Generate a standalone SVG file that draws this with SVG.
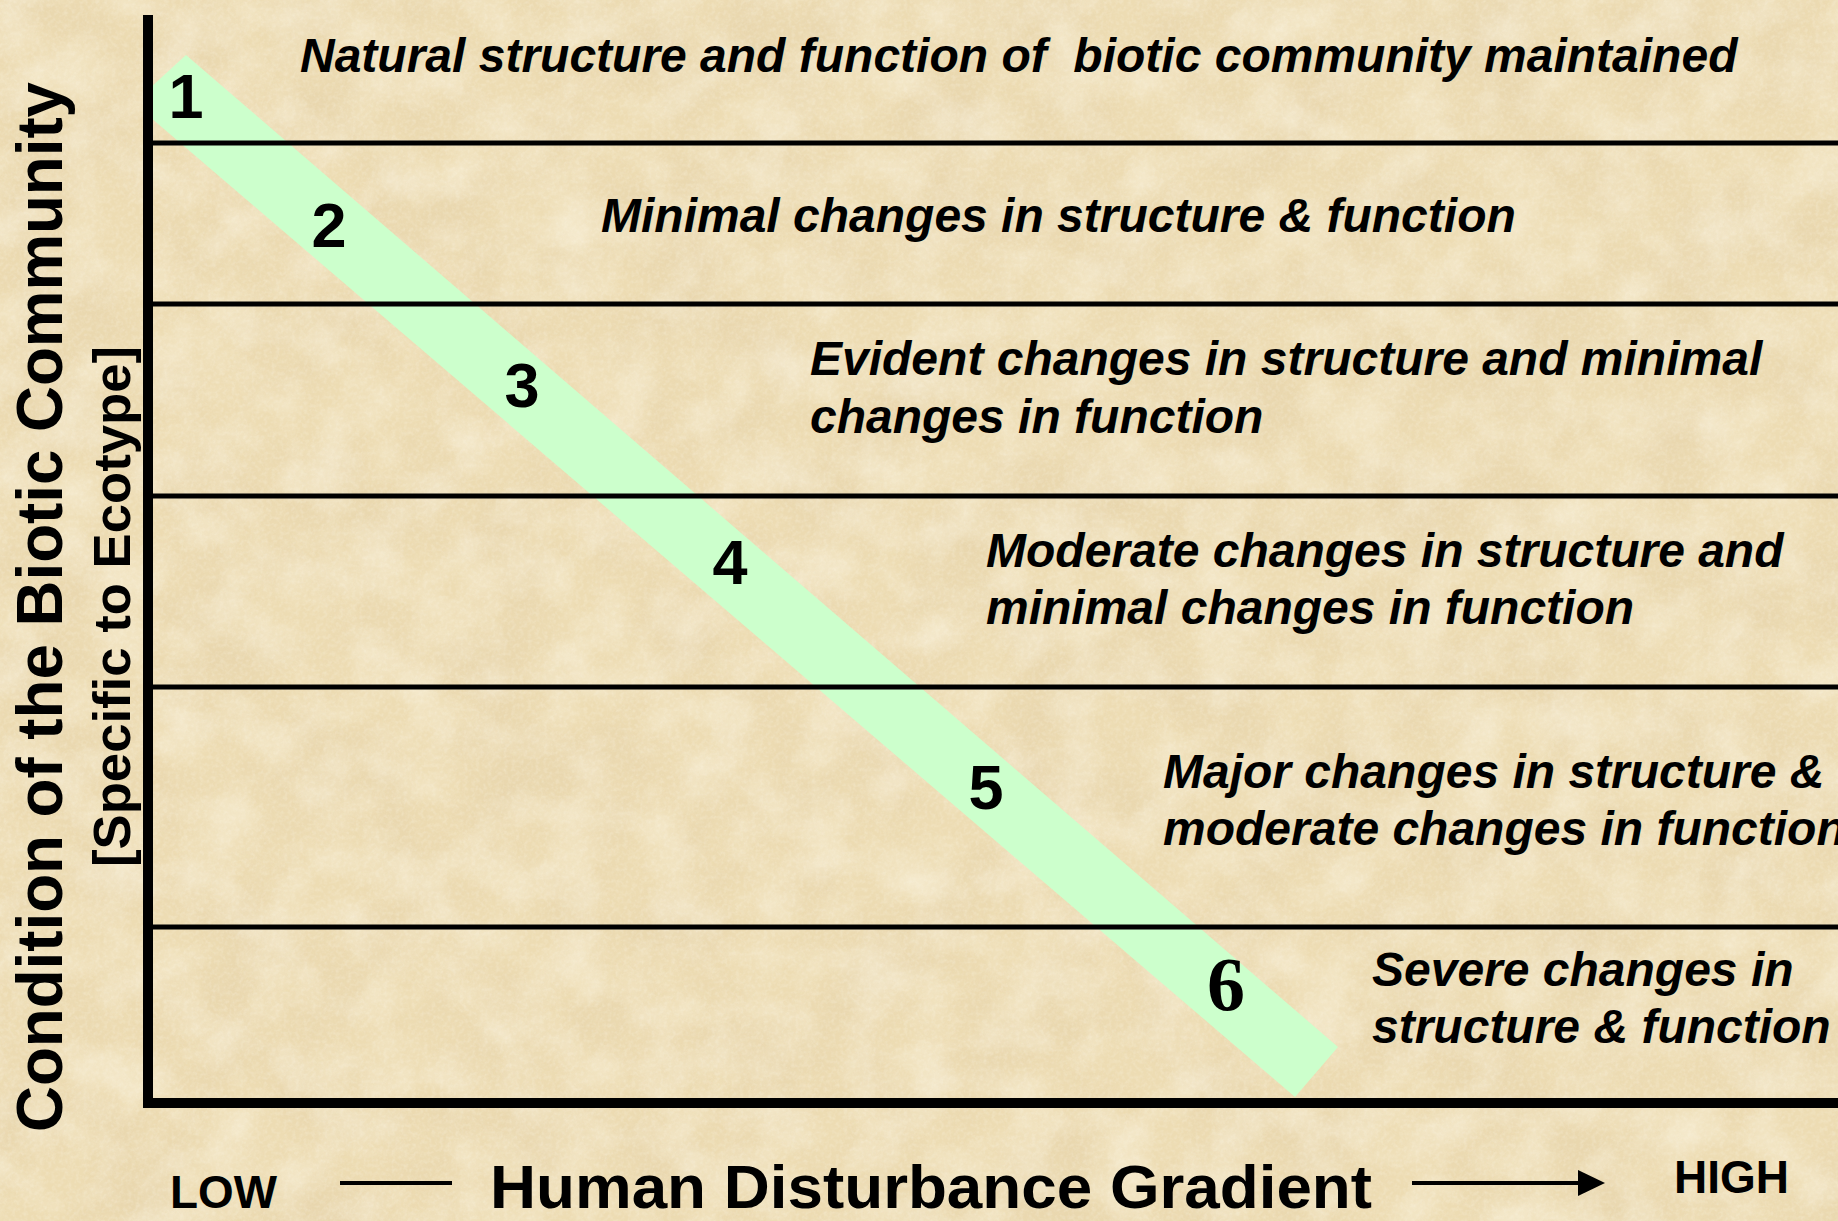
<svg xmlns="http://www.w3.org/2000/svg" width="1838" height="1221" viewBox="0 0 1838 1221">
  <defs>
    <filter id="paper" x="0" y="0" width="100%" height="100%" filterUnits="userSpaceOnUse">
      <feTurbulence type="fractalNoise" baseFrequency="0.011" numOctaves="5" seed="7" result="n"/>
      <feColorMatrix in="n" type="matrix" values="0 0 0 0 0.78  0 0 0 0 0.64  0 0 0 0 0.40  1.6 0 0 0 -0.6"/>
    </filter>
    <filter id="light" x="0" y="0" width="100%" height="100%" filterUnits="userSpaceOnUse">
      <feTurbulence type="fractalNoise" baseFrequency="0.02" numOctaves="4" seed="11" result="n"/>
      <feColorMatrix in="n" type="matrix" values="0 0 0 0 0.97  0 0 0 0 0.92  0 0 0 0 0.78  1.6 0 0 0 -0.6"/>
    </filter>
    <filter id="speck" x="0" y="0" width="100%" height="100%" filterUnits="userSpaceOnUse">
      <feTurbulence type="fractalNoise" baseFrequency="0.25" numOctaves="2" seed="2" result="n"/>
      <feColorMatrix in="n" type="matrix" values="0 0 0 0 0.98  0 0 0 0 0.94  0 0 0 0 0.82  1.5 0 0 0 -0.6"/>
    </filter>
    <style>
      .lbl { font-family: "Liberation Sans", Arial, sans-serif; font-weight: bold; font-style: italic; font-size: 48px; fill: #000; white-space: pre; }
      .num { font-family: "Liberation Sans", Arial, sans-serif; font-weight: bold; font-size: 63px; fill: #000; text-anchor: middle; }
      .ax { font-family: "Liberation Sans", Arial, sans-serif; font-weight: bold; fill: #000; }
      .div { stroke: #000; stroke-width: 5; fill: none; }
    </style>
  </defs>

  <g id="background">
    <rect x="0" y="0" width="1838" height="1221" fill="#EDDCB3"/>
    <rect x="0" y="0" width="1838" height="1221" filter="url(#paper)" opacity="0.75"/>
    <rect x="0" y="0" width="1838" height="1221" filter="url(#light)" opacity="0.6"/>
    <rect x="0" y="0" width="1838" height="1221" filter="url(#speck)" opacity="0.35"/>
  </g>

  <g id="gradient-band">
    <polygon points="186,55 1338,1047 1295,1097 150,117 150,88" fill="#CCFFCC"/>
  </g>

  <g id="connectors">
    <line class="div" x1="150" y1="143" x2="1838" y2="143"/>
    <line class="div" x1="150" y1="304" x2="1838" y2="304"/>
    <line class="div" x1="150" y1="496" x2="1838" y2="496"/>
    <line class="div" x1="150" y1="687" x2="1838" y2="687"/>
    <line class="div" x1="150" y1="927" x2="1838" y2="927"/>
    <line x1="148" y1="15" x2="148" y2="1108" stroke="#000" stroke-width="10"/>
    <line x1="143" y1="1103" x2="1838" y2="1103" stroke="#000" stroke-width="10"/>
    <line x1="340" y1="1183" x2="452" y2="1183" stroke="#000" stroke-width="4"/>
    <line x1="1412" y1="1183" x2="1582" y2="1183" stroke="#000" stroke-width="4"/>
    <polygon points="1578,1170 1605,1183 1578,1196" fill="#000"/>
  </g>

  <g id="level-1">
    <text class="num" x="186" y="118">1</text>
    <text class="lbl" x="300" y="72" xml:space="preserve">Natural structure and function of  biotic community maintained</text>
  </g>
  <g id="level-2">
    <text class="num" x="329" y="247">2</text>
    <text class="lbl" x="601" y="232">Minimal changes in structure &amp; function</text>
  </g>
  <g id="level-3">
    <text class="num" x="522" y="407">3</text>
    <text class="lbl" x="810" y="375">Evident changes in structure and minimal</text>
    <text class="lbl" x="810" y="433">changes in function</text>
  </g>
  <g id="level-4">
    <text class="num" x="730" y="584">4</text>
    <text class="lbl" x="986" y="567">Moderate changes in structure and</text>
    <text class="lbl" x="986" y="624">minimal changes in function</text>
  </g>
  <g id="level-5">
    <text class="num" x="986" y="809">5</text>
    <text class="lbl" x="1163" y="788">Major changes in structure &amp;</text>
    <text class="lbl" x="1163" y="845">moderate changes in function</text>
  </g>
  <g id="level-6">
    <text x="1226" y="1010" text-anchor="middle" font-family="'Liberation Serif', 'Times New Roman', serif" font-weight="bold" font-size="76">6</text>
    <text class="lbl" x="1372" y="986">Severe changes in</text>
    <text class="lbl" x="1372" y="1043">structure &amp; function</text>
  </g>

  <g id="y-axis-title">
    <text class="ax" font-size="65" transform="translate(62,1132) rotate(-90)" textLength="1050" lengthAdjust="spacingAndGlyphs">Condition of the Biotic Community</text>
    <text class="ax" font-size="52" transform="translate(130,867) rotate(-90)" textLength="521" lengthAdjust="spacingAndGlyphs">[Specific to Ecotype]</text>
  </g>

  <g id="x-axis-title">
    <text class="ax" font-size="47" x="170" y="1208" textLength="107" lengthAdjust="spacingAndGlyphs">LOW</text>
    <text class="ax" font-size="62" x="490" y="1208" textLength="882" lengthAdjust="spacingAndGlyphs">Human Disturbance Gradient</text>
    <text class="ax" font-size="47" x="1674" y="1193" textLength="115" lengthAdjust="spacingAndGlyphs">HIGH</text>
  </g>
</svg>
